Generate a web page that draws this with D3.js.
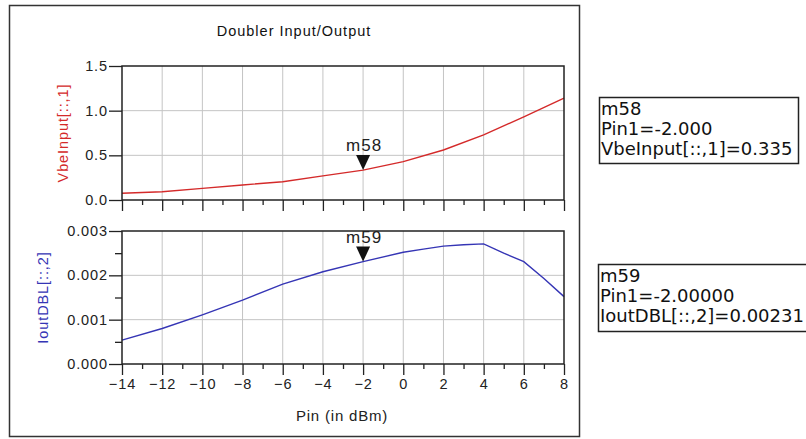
<!DOCTYPE html>
<html>
<head>
<meta charset="utf-8">
<script src="https://cdn.jsdelivr.net/npm/d3@7"></script>
<style>
  body { margin: 0; background: #fff; }
  svg { display: block; font-family: "Liberation Sans", Arial, sans-serif; }
</style>
</head>
<body>
<div id="chart"></div>
<script>
// Pin sweep (dBm) and the two traces
const xTickValues = [-14, -12, -10, -8, -6, -4, -2, 0, 2, 4, 6, 8];
const xMinorValues = [-13, -11, -9, -7, -5, -3, -1, 1, 3, 5, 7];

const pinTop = [-14, -12, -10, -8, -6, -4, -2, 0, 2, 4, 6, 8];
const vbeInput = [0.075, 0.093, 0.13, 0.168, 0.205, 0.27, 0.335, 0.43, 0.56, 0.73, 0.93, 1.14];

const pinBottom = [-14, -12, -10, -8, -6, -4, -2, 0, 1, 2, 3, 4, 5, 6, 7, 8];
const ioutDBL = [0.00054, 0.0008, 0.00111, 0.00144, 0.0018, 0.00208, 0.00231, 0.00252, 0.00259, 0.00266, 0.00269, 0.00271, 0.0025, 0.00231, 0.00193, 0.00152];

const topTicks = [0, 0.5, 1.0, 1.5];
const bottomTicks = [0, 0.001, 0.002, 0.003];
const bottomMinor = [0.0005, 0.0015, 0.0025];

const width = 806, height = 439;
const marginLeft = 122, marginRight = 564;
const font = 'Liberation Sans, Arial, sans-serif';

const svg = d3.select('#chart').append('svg')
    .attr('width', width)
    .attr('height', height);

svg.append('rect').attr('width', width).attr('height', height).attr('fill', '#fff');

// outer frame
svg.append('rect')
    .attr('x', 9.5).attr('y', 5.5)
    .attr('width', 570).attr('height', 431)
    .attr('fill', 'none')
    .attr('stroke', '#333')
    .attr('stroke-width', 1.5);

svg.append('text')
    .attr('x', 294).attr('y', 36)
    .attr('text-anchor', 'middle')
    .attr('font-size', 14.5)
    .attr('letter-spacing', 1)
    .attr('fill', '#111')
    .text('Doubler Input/Output');

const x = d3.scaleLinear([-14, 8], [marginLeft, marginRight]);

function styleTicks(a) {
    a.select('.domain').remove();
    a.selectAll('.tick line').attr('stroke', '#222').attr('stroke-width', 1.3);
    a.selectAll('text')
        .attr('font-size', 14.5)
        .attr('letter-spacing', 0.9)
        .attr('fill', '#222')
        .attr('font-family', font);
}

function drawPanel({ top, bottom, yDomain, yTicks, yMinor, yFormat, xs, ys, color, yLabel, yLabelX, showXLabels, marker }) {
    const y = d3.scaleLinear(yDomain, [bottom, top]);
    const g = svg.append('g');

    // grid
    g.append('g')
        .selectAll('line')
        .data(xTickValues.slice(1, -1))
        .join('line')
        .attr('x1', d => x(d)).attr('x2', d => x(d))
        .attr('y1', top).attr('y2', bottom)
        .attr('stroke', '#c4c4c4');
    g.append('g')
        .selectAll('line')
        .data(yTicks.slice(1, -1))
        .join('line')
        .attr('x1', marginLeft).attr('x2', marginRight)
        .attr('y1', d => y(d)).attr('y2', d => y(d))
        .attr('stroke', '#c4c4c4');

    // y axis
    g.append('g')
        .attr('transform', `translate(${marginLeft},0)`)
        .call(d3.axisLeft(y).tickValues(yTicks).tickSize(13).tickPadding(1).tickFormat(d3.format(yFormat)))
        .call(styleTicks);
    if (yMinor) {
        g.append('g')
            .attr('transform', `translate(${marginLeft},0)`)
            .call(d3.axisLeft(y).tickValues(yMinor).tickSize(7).tickFormat(''))
            .call(styleTicks);
    }

    // x axis ticks below panel
    g.append('g')
        .attr('transform', `translate(0,${bottom})`)
        .call(d3.axisBottom(x).tickValues(xTickValues).tickSize(11).tickPadding(4)
            .tickFormat(showXLabels ? d3.format('d') : ''))
        .call(styleTicks);
    g.append('g')
        .attr('transform', `translate(0,${bottom})`)
        .call(d3.axisBottom(x).tickValues(xMinorValues).tickSize(5).tickFormat(''))
        .call(styleTicks);

    // trace
    const line = d3.line()
        .x((d, i) => x(xs[i]))
        .y(d => y(d));
    g.append('path')
        .attr('d', line(ys))
        .attr('fill', 'none')
        .attr('stroke', color)
        .attr('stroke-width', 1.4);

    // panel frame
    g.append('rect')
        .attr('x', marginLeft).attr('y', top)
        .attr('width', marginRight - marginLeft).attr('height', bottom - top)
        .attr('fill', 'none')
        .attr('stroke', '#222')
        .attr('stroke-width', 1.5);

    g.append('text')
        .attr('transform', `translate(${yLabelX},${(top + bottom) / 2}) rotate(-90)`)
        .attr('text-anchor', 'middle')
        .attr('font-size', 14.5)
        .attr('letter-spacing', 0.9)
        .attr('fill', color)
        .text(yLabel);

    // marker
    const mx = x(marker.pin), my = y(marker.value);
    g.append('path')
        .attr('d', `M${mx - 7},${my - 15}L${mx + 7},${my - 15}L${mx},${my}Z`)
        .attr('fill', '#111');
    g.append('text')
        .attr('x', mx + 1).attr('y', my - 19)
        .attr('text-anchor', 'middle')
        .attr('font-size', 17)
        .attr('letter-spacing', 1)
        .attr('fill', '#222')
        .text(marker.name);
}

drawPanel({
    top: 66, bottom: 200, yDomain: [0, 1.5], yTicks: topTicks, yFormat: '.1f',
    xs: pinTop, ys: vbeInput, color: '#d42a2a', yLabel: 'VbeInput[::,1]', yLabelX: 68,
    showXLabels: false, marker: { name: 'm58', pin: -2, value: 0.335 }
});
drawPanel({
    top: 231, bottom: 364, yDomain: [0, 0.003], yTicks: bottomTicks, yMinor: bottomMinor, yFormat: '.3f',
    xs: pinBottom, ys: ioutDBL, color: '#3535b5', yLabel: 'IoutDBL[::,2]', yLabelX: 48,
    showXLabels: true, marker: { name: 'm59', pin: -2, value: 0.00231 }
});

svg.append('text')
    .attr('x', 342).attr('y', 421)
    .attr('text-anchor', 'middle')
    .attr('font-size', 15)
    .attr('letter-spacing', 0.8)
    .attr('fill', '#222')
    .text('Pin (in dBm)');

// marker readouts
const readouts = [
    { x: 599, y: 97, w: 199, h: 66, lines: ['m58', 'Pin1=-2.000', 'VbeInput[::,1]=0.335'] },
    { x: 598, y: 264, w: 220, h: 67, lines: ['m59', 'Pin1=-2.00000', 'IoutDBL[::,2]=0.00231'] }
];
readouts.forEach(r => {
    svg.append('rect')
        .attr('x', r.x + 0.5).attr('y', r.y + 0.5)
        .attr('width', r.w).attr('height', r.h)
        .attr('fill', '#fff')
        .attr('stroke', '#222')
        .attr('stroke-width', 1.5);
    svg.append('g')
        .selectAll('text')
        .data(r.lines)
        .join('text')
        .attr('x', r.x + 2)
        .attr('y', (d, i) => r.y + 18 + i * 20)
        .attr('font-family', 'DejaVu Sans, sans-serif')
        .attr('font-size', 18)
        .attr('fill', '#111')
        .text(d => d);
});
</script>
</body>
</html>
